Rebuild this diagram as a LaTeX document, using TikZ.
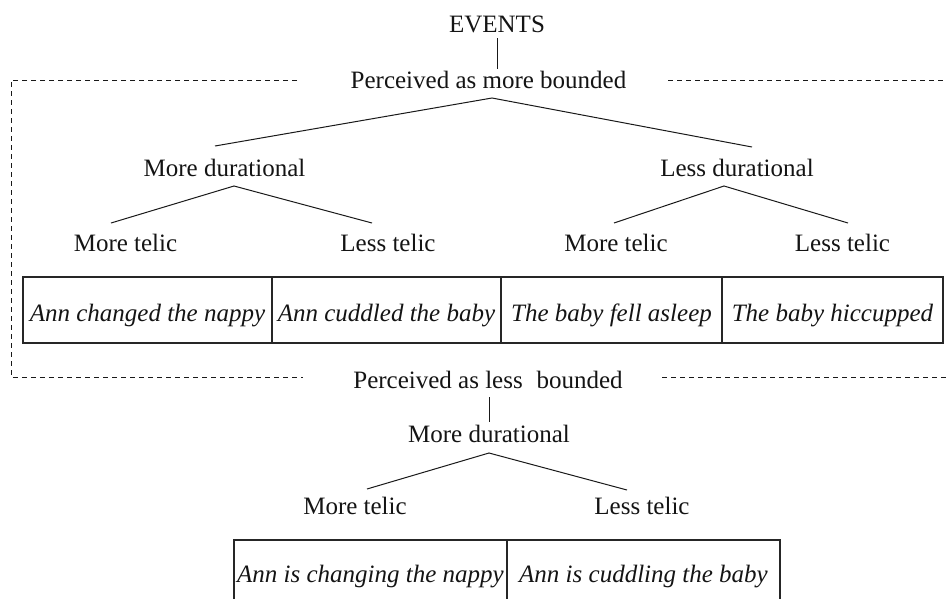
\documentclass[tikz,border=0pt]{standalone}
\usepackage{fontspec}
\setmainfont{Liberation Serif}
\begin{document}
\begin{tikzpicture}[x=1pt,y=-1pt,
  lbl/.style={anchor=base, inner sep=0pt, font=\fontsize{25}{30}\selectfont, text=black!92},
  cell/.style={draw=black!85, line width=1.1pt, inner sep=0pt, font=\fontsize{25}{30}\selectfont\itshape, text=black!92, text depth=0pt},
  edge/.style={line width=1pt, draw=black!90},
  dashline/.style={line width=1pt, draw=black!90, dash pattern=on 5pt off 4pt}
]
\useasboundingbox (0,0) rectangle (947,598);
\clip (0,0) rectangle (947,598);

% labels
\node[lbl] (ev)  at (497,32.5) {EVENTS};
\node[lbl] (pmb) at (488.5,88) {Perceived as more bounded};
\node[lbl] (md1) at (224.5,176) {More durational};
\node[lbl] (ld1) at (737,176) {Less durational};
\node[lbl] (mt1) at (125.5,251) {More telic};
\node[lbl] (lt1) at (388,251) {Less telic};
\node[lbl] (mt2) at (616,251) {More telic};
\node[lbl] (lt2) at (842.5,251) {Less telic};
\node[lbl] (plb) at (488,388) {Perceived as less\hspace{0.3em} bounded};
\node[lbl] (md2) at (489,442) {More durational};
\node[lbl] (mt3) at (355,514) {More telic};
\node[lbl] (lt3) at (642,514) {Less telic};

% example cells (top)
\node[cell, minimum width=249pt, minimum height=66pt, text height=22pt] (c1) at (147.5,310) {Ann changed the nappy};
\node[cell, minimum width=229pt, minimum height=66pt, text height=22pt] (c2) at (386.5,310) {Ann cuddled the baby};
\node[cell, minimum width=221pt, minimum height=66pt, text height=22pt] (c3) at (611.5,310) {The baby fell asleep};
\node[cell, minimum width=221pt, minimum height=66pt, text height=22pt] (c4) at (832.5,310) {The baby hiccupped};
% example cells (bottom)
\node[cell, minimum width=273pt, minimum height=80pt, text height=4pt] (c5) at (370.5,580) {Ann is changing the nappy};
\node[cell, minimum width=273pt, minimum height=80pt, text height=4pt] (c6) at (643.5,580) {Ann is cuddling the baby};

% connector end points
\coordinate (evB) at (497.7,38);   \coordinate (pmbT) at (497.7,69);
\coordinate (pmbA) at (492,98);    \coordinate (md1T) at (215,146);  \coordinate (ld1T) at (752,147);
\coordinate (md1A) at (234,186);   \coordinate (mt1T) at (111,223);  \coordinate (lt1T) at (372,223);
\coordinate (ld1A) at (724,186);   \coordinate (mt2T) at (614,223);  \coordinate (lt2T) at (848,223);
\coordinate (plbB) at (489,397);   \coordinate (md2T) at (489,422);
\coordinate (md2A) at (489,453);   \coordinate (mt3T) at (367,489); \coordinate (lt3T) at (627,490);

\draw[edge] (evB) -- (pmbT);
\draw[edge] (md1T) -- (pmbA) -- (ld1T);
\draw[edge] (mt1T) -- (md1A) -- (lt1T);
\draw[edge] (mt2T) -- (ld1A) -- (lt2T);
\draw[edge] (plbB) -- (md2T);
\draw[edge] (mt3T) -- (md2A) -- (lt3T);

% dashed frame
\coordinate (dTL) at (297,80);  \coordinate (dTR) at (668,80);
\coordinate (dBL) at (303,377); \coordinate (dBR) at (662,377);
\coordinate (dTLc) at (11,80);  \coordinate (dBLc) at (11,377);
\coordinate (dTRe) at (947,80); \coordinate (dBRe) at (947,377);
\draw[dashline] (dTL) -- (dTLc) -- (dBLc) -- (dBL);
\draw[dashline] (dTR) -- (dTRe);
\draw[dashline] (dBR) -- (dBRe);
\end{tikzpicture}
\end{document}
